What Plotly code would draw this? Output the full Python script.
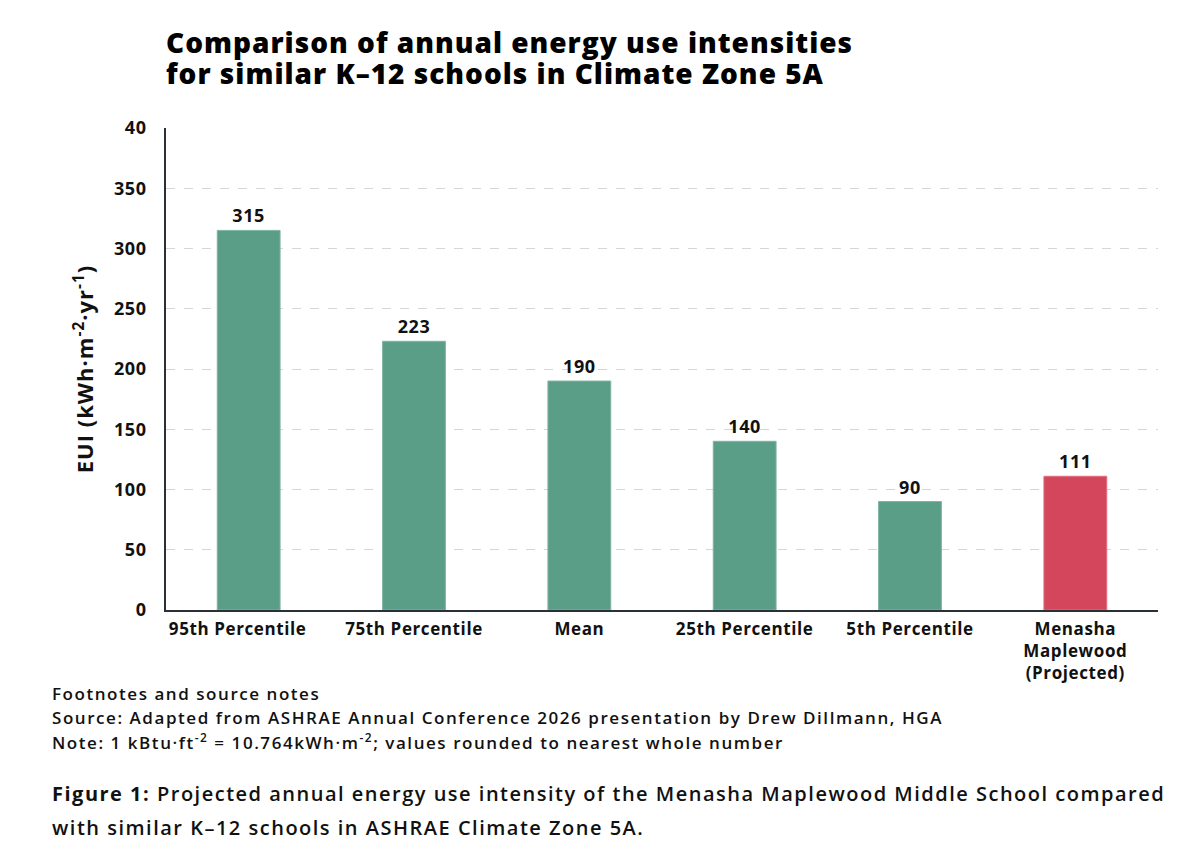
import plotly.graph_objects as go

# data
categories = ["95th Percentile", "75th Percentile", "Mean", "25th Percentile",
              "5th Percentile", "Menasha<br>Maplewood<br>(Projected)"]
eui_values = [315, 223, 190, 140, 90, 111]
bar_colors = ["#5a9e88", "#5a9e88", "#5a9e88", "#5a9e88", "#5a9e88", "#d4465b"]
edge_colors = ["#7fb5a3", "#7fb5a3", "#7fb5a3", "#7fb5a3", "#7fb5a3", "#e0707f"]
y_ticks = [0, 50, 100, 150, 200, 250, 300, 350, 400]
y_tick_text = ["0", "50", "100", "150", "200", "250", "300", "350", "40"]

FONT = "Open Sans"
INK = "#111111"


def spaced(s, px):
    # widen the text a little, the original face is wider than Open Sans
    return "<span style='letter-spacing:%spx'>%s</span>" % (px, s)


x_labels = ["<br>".join(spaced(p, 0.6) for p in c.split("<br>")) for c in categories]
# first label sits a bit left of its bar in the original
x_labels[0] = x_labels[0] + "&nbsp;&nbsp;&nbsp;&nbsp;&nbsp;"

fig = go.Figure()

fig.add_trace(go.Bar(
    x=categories,
    y=eui_values,
    width=0.38,
    marker=dict(color=bar_colors, line=dict(color=edge_colors, width=1)),
    text=[spaced(v, 0.6) for v in eui_values],
    textposition="outside",
    textfont=dict(family=FONT, size=18, color=INK, weight=700),
    cliponaxis=False,
    hoverinfo="x+y",
))

# page body has an 8px margin, so margins are 8px smaller than the target
fig.update_layout(
    width=1200,
    height=858,
    paper_bgcolor="white",
    plot_bgcolor="white",
    showlegend=False,
    margin=dict(l=158, r=50, t=120, b=256),
    font=dict(family=FONT, color=INK),
    bargap=0.62,
)

fig.update_yaxes(
    range=[0, 400],
    tickvals=y_ticks,
    ticktext=[spaced(t, 0.6) for t in y_tick_text],
    tickfont=dict(family=FONT, size=18, color=INK, weight=700),
    ticks="",
    ticklabelstandoff=14,
    showline=True,
    linecolor="#2a3038",
    linewidth=1.5,
    showgrid=True,
    gridcolor="#d6d6d6",
    griddash="dash",
    gridwidth=1,
    zeroline=False,
    title=dict(text=spaced("EUI (kWh·m<sup>-2</sup>·yr<sup>-1</sup>)", 1),
               font=dict(family=FONT, size=22, color=INK, weight=700),
               standoff=14),
)

fig.update_xaxes(
    tickvals=categories,
    ticktext=x_labels,
    tickfont=dict(family=FONT, size=17, color=INK, weight=700),
    ticklabelstandoff=3,
    showline=True,
    linecolor="#2a3038",
    linewidth=1.5,
    ticks="",
    showgrid=False,
)

# title, one annotation per line to keep the tight leading
title_lines = ["Comparison of annual energy use intensities",
               "for similar K–12 schools in Climate Zone 5A"]
for i, line in enumerate(title_lines):
    fig.add_annotation(
        text=spaced(line, 1), xref="paper", yref="paper", x=0, y=1.0,
        xshift=-2, yshift=86 - 31 * i,
        xanchor="left", yanchor="middle", align="left", showarrow=False,
        font=dict(family=FONT, size=28, color="#000000", weight=800),
    )

# footnotes
notes = [
    "Footnotes and source notes",
    "Source: Adapted from ASHRAE Annual Conference 2026 presentation by Drew Dillmann, HGA",
    "Note: 1 kBtu·ft<sup>-2</sup> = 10.764kWh·m<sup>-2</sup>; values rounded to nearest whole number",
]
for i, line in enumerate(notes):
    fig.add_annotation(
        text=spaced(line, 1.55), xref="paper", yref="paper", x=0, y=0,
        xshift=-116, yshift=-83 - 24 * i,
        xanchor="left", yanchor="middle", align="left", showarrow=False,
        font=dict(family=FONT, size=17, color=INK, weight=600),
    )

caption = [
    "<b style='font-weight:800'>Figure 1:</b> Projected annual energy use intensity of the Menasha Maplewood Middle School compared",
    "with similar K–12 schools in ASHRAE Climate Zone 5A.",
]
for i, line in enumerate(caption):
    fig.add_annotation(
        text=spaced(line, 1.5), xref="paper", yref="paper", x=0, y=0,
        xshift=-116, yshift=-183 - 34 * i,
        xanchor="left", yanchor="middle", align="left", showarrow=False,
        font=dict(family=FONT, size=20, color=INK, weight=600),
    )

fig.write_html("out.html")
